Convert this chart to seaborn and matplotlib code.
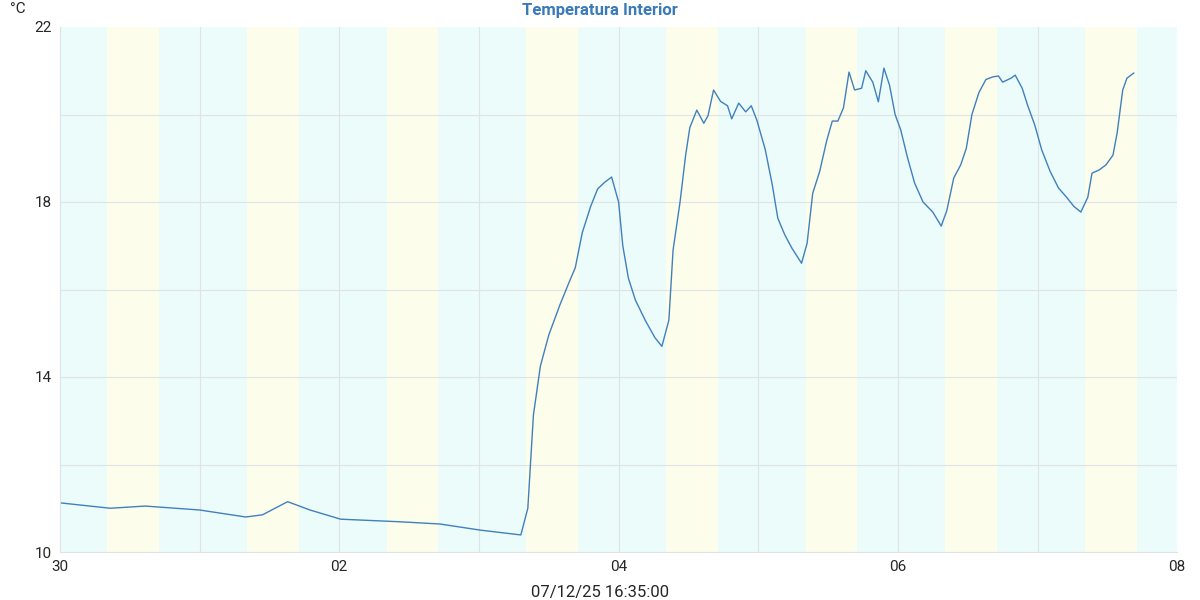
import matplotlib
matplotlib.use('Agg')
import pandas as pd
import seaborn as sns
import matplotlib.pyplot as plt

# days since 30 Nov 00:00, temperature in degC
days = [0.01, 0.36, 0.61, 1.00, 1.33, 1.45, 1.63, 1.79, 2.01, 2.44, 2.72, 3.01, 3.30,
        3.35, 3.39, 3.44, 3.50, 3.58, 3.65, 3.69, 3.74, 3.80, 3.85, 3.90, 3.95, 4.00,
        4.03, 4.07, 4.12, 4.19, 4.26, 4.31, 4.36, 4.39, 4.44, 4.48, 4.51, 4.56, 4.61,
        4.64, 4.68, 4.73, 4.78, 4.81, 4.86, 4.91, 4.95, 4.99, 5.05, 5.10, 5.14, 5.19,
        5.24, 5.31, 5.35, 5.39, 5.44, 5.49, 5.53, 5.57, 5.61, 5.65, 5.69, 5.74, 5.77,
        5.82, 5.86, 5.90, 5.94, 5.98, 6.02, 6.07, 6.12, 6.18, 6.25, 6.31, 6.35, 6.40,
        6.45, 6.49, 6.53, 6.58, 6.63, 6.68, 6.72, 6.75, 6.81, 6.84, 6.89, 6.93, 6.98,
        7.03, 7.09, 7.15, 7.21, 7.26, 7.31, 7.36, 7.39, 7.44, 7.49, 7.54, 7.57, 7.61,
        7.64, 7.69]
temps = [11.12, 11.0, 11.05, 10.96, 10.8, 10.85, 11.15, 10.96, 10.75, 10.69, 10.64, 10.5, 10.39,
         11.0, 13.13, 14.25, 14.96, 15.65, 16.2, 16.5, 17.3, 17.9, 18.3, 18.45, 18.57, 18.0,
         17.0, 16.26, 15.76, 15.3, 14.9, 14.7, 15.3, 16.9, 18.0, 19.07, 19.7, 20.1, 19.8,
         19.97, 20.56, 20.3, 20.2, 19.9, 20.26, 20.06, 20.2, 19.87, 19.2, 18.4, 17.63, 17.25,
         16.95, 16.6, 17.06, 18.2, 18.7, 19.4, 19.85, 19.85, 20.15, 20.97, 20.56, 20.6, 21.0,
         20.74, 20.29, 21.06, 20.67, 20.0, 19.65, 19.0, 18.43, 18.0, 17.77, 17.45, 17.8, 18.55,
         18.85, 19.23, 20.0, 20.5, 20.8, 20.86, 20.88, 20.74, 20.83, 20.9, 20.6, 20.2, 19.76,
         19.19, 18.7, 18.32, 18.1, 17.9, 17.77, 18.11, 18.66, 18.73, 18.85, 19.07, 19.58, 20.56,
         20.83, 20.95]
day_start, day_end = 0.34, 0.71   # daylight fraction of each day
tick_days = [0, 2, 4, 6, 8]
tick_labels = ['30', '02', '04', '06', '08']

sns.set_style('white')
plt.rcParams['font.family'] = ['Roboto', 'DejaVu Sans']

fig, ax = plt.subplots(figsize=(12, 6), dpi=100)
fig.subplots_adjust(left=0.05, right=0.981, top=0.955, bottom=0.08)

for d in range(8):
    ax.axvspan(d, d + day_start, color='#ecfcfb', lw=0, zorder=0)
    ax.axvspan(d + day_start, d + day_end, color='#fdfdec', lw=0, zorder=0)
    ax.axvspan(d + day_end, d + 1, color='#ecfcfb', lw=0, zorder=0)

for d in range(1, 8):
    ax.axvline(d, color='#dde3e6', lw=0.8, zorder=1)
for t in range(12, 22, 2):
    ax.axhline(t, color='#dde3e6', lw=0.8, zorder=1)

df = pd.DataFrame({'day': days, 'temp': temps})
sns.lineplot(data=df, x='day', y='temp', ax=ax, color='#4080bd', lw=1, zorder=3)

ax.set_xlim(0, 8)
ax.set_ylim(10, 22)
ax.set_xticks(tick_days, tick_labels)
ax.set_yticks([10, 14, 18, 22])
ax.set_xlabel('')
ax.set_ylabel('')
ax.tick_params(labelsize=11, length=0, pad=6)
for s in ['top', 'right']:
    ax.spines[s].set_visible(False)
for s in ['left', 'bottom']:
    ax.spines[s].set_color('#dde3e6')

fig.text(0.5, 0.982, 'Temperatura Interior', ha='center', va='center',
         fontsize=12, fontweight='bold', color='#3a7ab8')
fig.text(0.008, 0.985, '°C', ha='left', va='center', fontsize=11)
fig.text(0.5, 0.013, '07/12/25 16:35:00', ha='center', va='center', fontsize=12)

fig.savefig('out.png', dpi=100)
